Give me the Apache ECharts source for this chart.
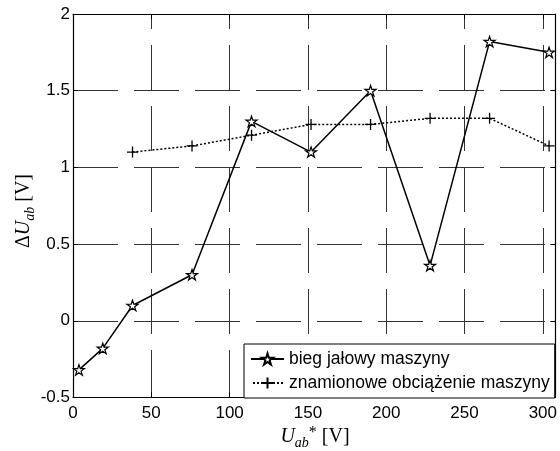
<!DOCTYPE html>
<html>
<head>
<meta charset="utf-8">
<script src="https://cdn.jsdelivr.net/npm/echarts@6/dist/echarts.min.js"></script>
<style>
  html, body { margin: 0; padding: 0; background: #fff; }
  #chart { width: 560px; height: 451px; }
</style>
</head>
<body>
<div id="chart"></div>
<script>
// dane
var uBieg = [3.8, 19, 38, 76, 114, 152, 190, 228, 266, 304];
var dBieg = [-0.32, -0.18, 0.10, 0.30, 1.30, 1.10, 1.50, 0.36, 1.82, 1.75];
var uZnam = [38, 76, 114, 152, 190, 228, 266, 304];
var dZnam = [1.10, 1.14, 1.21, 1.28, 1.28, 1.32, 1.32, 1.14];
var names = ['bieg jałowy maszyny', 'znamionowe obciążenie maszyny'];

function pairs(xs, ys) {
  var out = [];
  for (var i = 0; i < xs.length; i++) out.push([xs[i], ys[i]]);
  return out;
}

var STAR = 'path://M10,0L12.245,6.91L19.51,6.91L13.63,11.18L15.88,18.09L10,13.82L4.12,18.09L6.37,11.18L0.49,6.91L7.755,6.91Z';
var PLUS = 'path://M5,0L5,10M0,5L10,5';

var sans = 'Liberation Sans, Arial, sans-serif';
var serif = 'Liberation Serif, Times New Roman, serif';

var chart = echarts.init(document.getElementById('chart'), null, { renderer: 'canvas' });

var tickIn = { show: true, inside: true, length: 5, lineStyle: { color: '#000', width: 1 } };
var line = { show: true, onZero: false, lineStyle: { color: '#000', width: 1.2 } };

var option = {
  animation: false,
  backgroundColor: '#fff',
  grid: { left: 73, right: 3.5, top: 14, bottom: 53.5, containLabel: false },
  xAxis: [{
    type: 'value', min: 0, max: 308, interval: 50,
    axisLine: line, axisTick: tickIn,
    axisLabel: { color: '#000', fontFamily: sans, fontSize: 17, margin: 7, showMaxLabel: false },
    splitLine: { show: true, lineStyle: { color: '#333', width: 1, type: [45, 16], dashOffset: 30 } }
  }, {
    type: 'value', min: 0, max: 308, interval: 50, position: 'top',
    axisLine: line, axisTick: tickIn, axisLabel: { show: false }, splitLine: { show: false }
  }],
  yAxis: [{
    type: 'value', min: -0.5, max: 2, interval: 0.5,
    axisLine: line, axisTick: tickIn,
    axisLabel: { color: '#000', fontFamily: sans, fontSize: 17, margin: 3 },
    splitLine: { show: true, lineStyle: { color: '#333', width: 1, type: [45, 16] } }
  }, {
    type: 'value', min: -0.5, max: 2, interval: 0.5, position: 'right',
    axisLine: line, axisTick: tickIn, axisLabel: { show: false }, splitLine: { show: false }
  }],
  legend: {
    left: 244, top: 344,
    orient: 'vertical', align: 'left',
    backgroundColor: '#fff', borderColor: '#000', borderWidth: 1,
    padding: [6, 5, 6, 6],
    itemWidth: 33, itemHeight: 14, itemGap: 6,
    textStyle: { color: '#000', fontFamily: sans, fontSize: 17.5, lineHeight: 14 },
    data: names
  },
  series: [{
    name: names[0], type: 'line',
    data: pairs(uBieg, dBieg),
    symbol: STAR, symbolSize: 11, symbolKeepAspect: true,
    itemStyle: { color: '#fff', borderColor: '#000', borderWidth: 1.2 },
    lineStyle: { color: '#000', width: 1.5, type: 'solid' },
    z: 3
  }, {
    name: names[1], type: 'line',
    data: pairs(uZnam, dZnam),
    symbol: PLUS, symbolSize: 11, symbolKeepAspect: true,
    itemStyle: { color: 'none', borderColor: '#000', borderWidth: 1.3 },
    lineStyle: { color: '#000', width: 1.5, type: [2, 2] },
    z: 2
  }],
  graphic: [{
    type: 'text', x: 315, y: 437, z: 10,
    style: {
      text: '{u|U}{s|ab}{p|*}{n| [V]}',
      align: 'center', verticalAlign: 'middle', fill: '#000',
      rich: {
        u: { fontFamily: serif, fontStyle: 'italic', fontSize: 20, lineHeight: 20 },
        s: { fontFamily: serif, fontStyle: 'italic', fontSize: 14, lineHeight: 14, padding: [12, 0, 0, 0] },
        p: { fontFamily: serif, fontSize: 16, lineHeight: 16, padding: [0, 0, 8, 0] },
        n: { fontFamily: serif, fontSize: 20, lineHeight: 20 }
      }
    }
  }, {
    type: 'text', x: 24, y: 211, rotation: Math.PI / 2, z: 10,
    style: {
      text: '{n|Δ}{u|U}{s|ab}{n| [V]}',
      align: 'center', verticalAlign: 'middle', fill: '#000',
      rich: {
        u: { fontFamily: serif, fontStyle: 'italic', fontSize: 20, lineHeight: 20 },
        s: { fontFamily: serif, fontStyle: 'italic', fontSize: 14, lineHeight: 14, padding: [12, 0, 0, 0] },
        n: { fontFamily: serif, fontSize: 20, lineHeight: 20 }
      }
    }
  }]
};

chart.setOption(option);
</script>
</body>
</html>
